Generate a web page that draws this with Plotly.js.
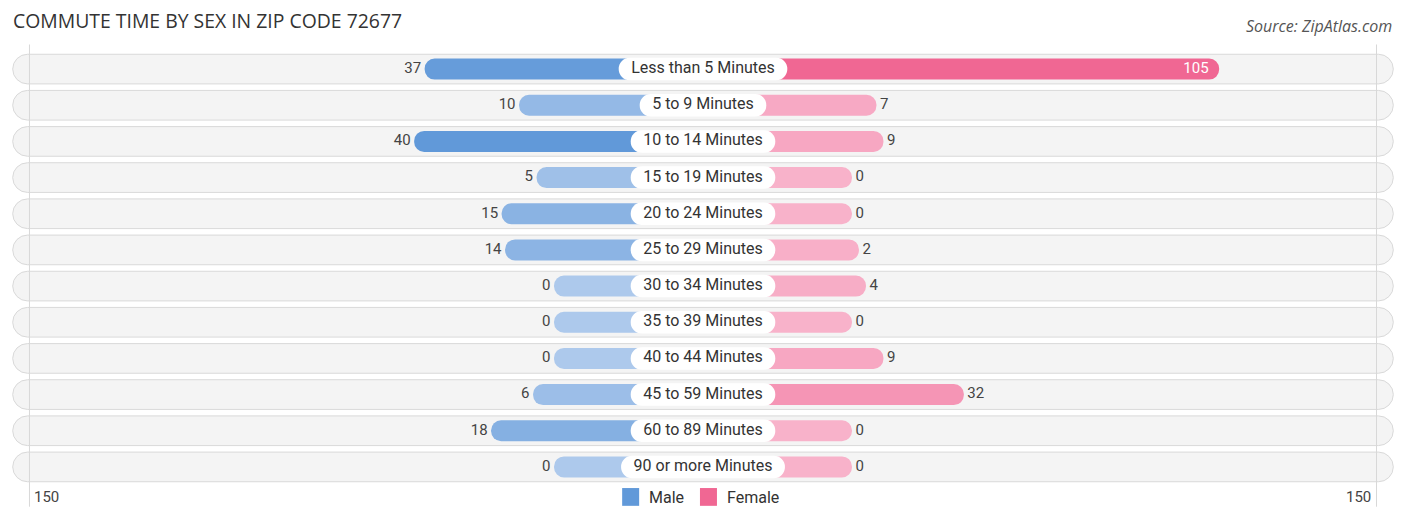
<!DOCTYPE html>
<html>
<head>
<meta charset="utf-8">
<script src="https://cdn.plot.ly/plotly-3.0.1.min.js"></script>
<style>
  body { margin: 0; background: #fff; }
  #plot { width: 1406px; height: 523px; }
</style>
</head>
<body>
<div id="plot"></div>
<script>
var categories = ['Less than 5 Minutes', '5 to 9 Minutes', '10 to 14 Minutes', '15 to 19 Minutes',
  '20 to 24 Minutes', '25 to 29 Minutes', '30 to 34 Minutes', '35 to 39 Minutes',
  '40 to 44 Minutes', '45 to 59 Minutes', '60 to 89 Minutes', '90 or more Minutes'];
var male = [37, 10, 40, 5, 15, 14, 0, 0, 0, 6, 18, 0];
var female = [105, 7, 9, 0, 0, 2, 4, 0, 9, 32, 0, 0];
var axisMax = 150;

// bars start behind the centre label, so every bar gets a fixed offset
var OFFSET = 42.6;
var R = 197.6;
var K = 691 / R; // px per unit

function mix(a, b, t) {
  var pa = [parseInt(a.substr(1,2),16), parseInt(a.substr(3,2),16), parseInt(a.substr(5,2),16)];
  var pb = [parseInt(b.substr(1,2),16), parseInt(b.substr(3,2),16), parseInt(b.substr(5,2),16)];
  var c = pa.map(function(v, i){ return Math.round(v + (pb[i]-v)*t); });
  return 'rgb(' + c.join(',') + ')';
}

function shade(vals, light, strong) {
  var mx = Math.max.apply(null, vals);
  return vals.map(function(v){ return mix(light, strong, Math.pow(v / mx, 0.8)); });
}

var idx = categories.map(function(c, i){ return i; });

var ctx = document.createElement('canvas').getContext('2d');
ctx.font = '16px Roboto';
var halfW = categories.map(function(c){ return (ctx.measureText(c).width / 2 + 12.5) / K; });

var rows = {
  type: 'bar', orientation: 'h', y: idx,
  x: idx.map(function(){ return 2 * R - 0.4; }),
  base: idx.map(function(){ return -R + 0.2; }),
  width: 0.82,
  marker: { color: '#f4f4f4', line: { color: '#d9d9d9', width: 1 }, cornerradius: 15 },
  hoverinfo: 'skip', showlegend: false
};

var maleBars = {
  type: 'bar', orientation: 'h', y: idx,
  x: male.map(function(v){ return -(OFFSET + v); }),
  base: idx.map(function(){ return 0; }),
  width: 0.58,
  marker: { color: shade(male, '#adc9ec', '#6199d9'), cornerradius: 10 },
  hoverinfo: 'skip', showlegend: false
};

var femaleBars = {
  type: 'bar', orientation: 'h', y: idx,
  x: female.map(function(v){ return OFFSET + v; }),
  base: idx.map(function(){ return 0; }),
  width: 0.58,
  marker: { color: shade(female, '#f8b2ca', '#f06793'), cornerradius: 10 },
  hoverinfo: 'skip', showlegend: false
};

var labelBoxes = {
  type: 'bar', orientation: 'h', y: idx,
  x: halfW.map(function(h){ return 2 * h; }),
  base: halfW.map(function(h){ return -h; }),
  width: 0.62,
  marker: { color: '#ffffff', cornerradius: 11 },
  hoverinfo: 'skip', showlegend: false
};

var labelText = {
  type: 'scatter', mode: 'text', y: idx, x: idx.map(function(){ return 0; }),
  text: categories, textposition: 'middle center',
  textfont: { family: 'Roboto', size: 16, color: '#333' },
  hoverinfo: 'skip', showlegend: false
};

var maleText = {
  type: 'scatter', mode: 'text', y: idx,
  x: male.map(function(v){ return -(OFFSET + v) - 1.0; }),
  text: male.map(String), textposition: 'middle left',
  textfont: { family: 'Roboto', size: 15, color: '#444' },
  hoverinfo: 'skip', showlegend: false
};

var femaleInside = female.map(function(v){ return v > 80; });
var femaleText = {
  type: 'scatter', mode: 'text', y: idx,
  x: female.map(function(v, i){ return femaleInside[i] ? OFFSET + v - 3 : OFFSET + v + 1.0; }),
  text: female.map(String),
  textposition: female.map(function(v, i){ return femaleInside[i] ? 'middle left' : 'middle right'; }),
  textfont: { family: 'Roboto', size: 15,
    color: female.map(function(v, i){ return femaleInside[i] ? '#ffffff' : '#444'; }) },
  hoverinfo: 'skip', showlegend: false
};

var gridX = [-(OFFSET + axisMax), OFFSET + axisMax];

var layout = {
  width: 1406, height: 523,
  margin: { l: 12, r: 12, t: 50.5, b: 38 },
  paper_bgcolor: '#fff', plot_bgcolor: '#fff',
  barmode: 'overlay',
  font: { family: 'Roboto', color: '#333' },
  xaxis: { range: [-R, R], showgrid: false, zeroline: false, showticklabels: false, fixedrange: true },
  yaxis: { range: [11.5, -0.5], showgrid: false, zeroline: false, showticklabels: false, fixedrange: true },
  showlegend: false,
  shapes: gridX.map(function(x){
    return { type: 'line', xref: 'x', yref: 'paper', x0: x, x1: x, y0: -0.05, y1: 1.015,
      line: { color: '#d8d8d8', width: 1 }, layer: 'above' };
  }).concat([
    { type: 'rect', xref: 'paper', yref: 'paper', x0: 0.4415, x1: 0.4538, y0: -0.007, y1: -0.048,
      fillcolor: '#6199d9', line: { width: 0 } },
    { type: 'rect', xref: 'paper', yref: 'paper', x0: 0.4978, x1: 0.5101, y0: -0.007, y1: -0.048,
      fillcolor: '#f06793', line: { width: 0 } }
  ]),
  annotations: [
    { xref: 'paper', yref: 'paper', x: -0.001, y: 1.0, yshift: 46, xanchor: 'left', yanchor: 'top',
      text: 'COMMUTE TIME BY SEX IN ZIP CODE 72677', showarrow: false,
      font: { family: 'Open Sans', size: 19.4, color: '#333' } },
    { xref: 'paper', yref: 'paper', x: 1.0, y: 1.0, yshift: 38, xanchor: 'right', yanchor: 'top',
      text: '<i>Source: ZipAtlas.com</i>', showarrow: false,
      font: { family: 'Open Sans', size: 16, color: '#555' } },
    { xref: 'x', yref: 'paper', x: gridX[0], y: -0.028, xanchor: 'left', yanchor: 'middle',
      xshift: 3, text: String(axisMax), showarrow: false, font: { family: 'Roboto', size: 15, color: '#444' } },
    { xref: 'x', yref: 'paper', x: gridX[1], y: -0.028, xanchor: 'right', yanchor: 'middle',
      xshift: -4, text: String(axisMax), showarrow: false, font: { family: 'Roboto', size: 15, color: '#444' } },
    { xref: 'paper', yref: 'paper', x: 0.4595, y: -0.028, xanchor: 'left', yanchor: 'middle',
      text: 'Male', showarrow: false, font: { family: 'Roboto', size: 16, color: '#333' } },
    { xref: 'paper', yref: 'paper', x: 0.5158, y: -0.028, xanchor: 'left', yanchor: 'middle',
      text: 'Female', showarrow: false, font: { family: 'Roboto', size: 16, color: '#333' } }
  ]
};

Plotly.newPlot('plot', [rows, maleBars, femaleBars, labelBoxes, labelText, maleText, femaleText],
  layout, { displayModeBar: false, staticPlot: true });
</script>
</body>
</html>
